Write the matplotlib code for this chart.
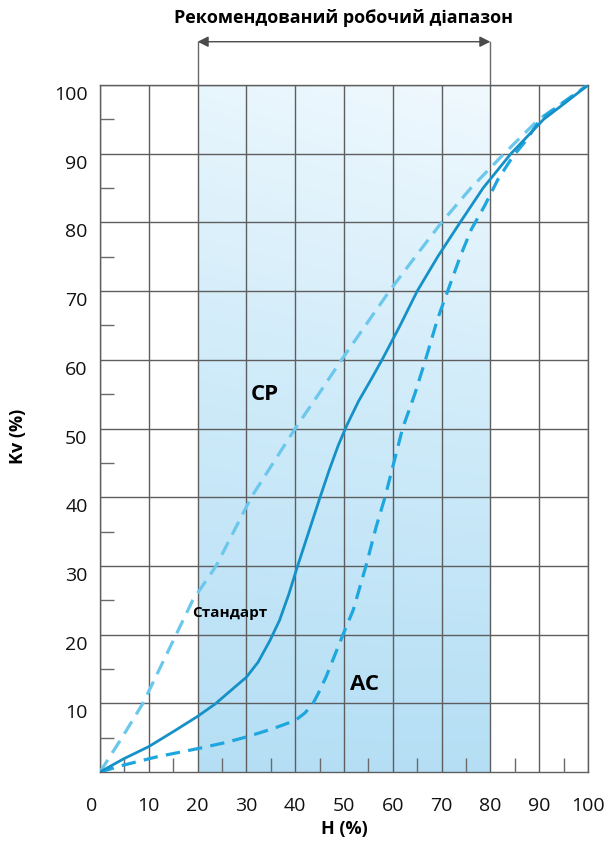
import numpy as np
import matplotlib
matplotlib.use("Agg")
import matplotlib.pyplot as plt
from matplotlib.colors import LinearSegmentedColormap
import matplotlib.transforms as mtransforms

plt.rcParams['font.family'] = ['Open Sans', 'DejaVu Sans']

# ---- data ----
cp_h  = [0, 4.5, 8.8, 12.2, 15.6, 19.0, 23.8, 27.4, 31.0, 35.5, 40.0, 44.8, 49.5, 54.4, 59.3, 64.6, 70.0, 76.0, 82.8, 89.9, 95.0, 100]
cp_kv = [0, 5, 10, 15, 20, 25, 30, 35, 40, 45, 50, 55, 60, 65, 70, 75, 80, 85, 90, 95, 97.5, 100]

std_h  = [0, 4.8, 10, 15.3, 20, 23.6, 27.2, 30.0, 32.4, 34.8, 36.8, 38.7, 40.5, 42.8, 45.1, 47.0, 48.8, 50.6, 53.0, 55.6, 57.8, 61.5, 65.0, 69.2, 73.8, 78.5, 84.2, 90.9, 95.5, 100]
std_kv = [0, 1.9, 3.7, 6.0, 8.1, 9.9, 12.1, 13.8, 16.0, 19.1, 22.1, 25.9, 30, 35, 40, 44, 47.5, 50.5, 54, 57.2, 60, 65, 70, 75, 80, 85, 90, 95, 97.5, 100]

ac_h  = [0, 4.8, 11.6, 20, 25.8, 30, 35.4, 40, 42.0, 43.6, 44.7, 46.3, 49.8, 51.9, 54.5, 56.6, 58.4, 60.2, 62.0, 64.5, 66.7, 69.2, 71.4, 73.8, 76.1, 78.8, 81.5, 84.6, 87.4, 90.2, 95, 100]
ac_kv = [0, 1.0, 2.2, 3.4, 4.3, 5.1, 6.3, 7.5, 8.6, 9.9, 11.4, 13.8, 20, 23.6, 30, 35.7, 40, 45, 50, 55, 60, 66, 70.3, 75, 79, 82.4, 86.2, 89.6, 92, 95, 97.5, 100]

x_ticks = [0, 10, 20, 30, 40, 50, 60, 70, 80, 90, 100]
y_ticks = [10, 20, 30, 40, 50, 60, 70, 80, 90, 100]
band = (20, 80)

title_text = "Рекомендований робочий діапазон"
xlabel_text = "H (%)"
ylabel_text = "Kv (%)"

# ---- figure ----
fig = plt.figure(figsize=(6.08, 8.5), dpi=100)
ax = fig.add_axes([100/608, 78/850, 488/608, 687/850])
ax.set_xlim(0, 100)
ax.set_ylim(0, 100)

# gradient band
ny, nx = 200, 60
yy, xx = np.mgrid[0:1:ny*1j, 0:1:nx*1j]
t = np.clip(0.82 * yy + 0.12 * xx * yy + 0.06, 0, 1)
cmap = LinearSegmentedColormap.from_list('band', ['#b2ddf4', '#cdeaf9', '#f0f9fe'])
ax.imshow(t, origin='lower', extent=[band[0], band[1], 0, 100], cmap=cmap,
          vmin=0, vmax=1, aspect='auto', zorder=0, interpolation='bilinear')

# grid
ax.set_xticks(x_ticks)
ax.set_yticks(y_ticks)
ax.set_xticks([5, 15, 25, 35, 45, 55, 65, 75, 85, 95], minor=True)
ax.set_yticks([5, 15, 25, 35, 45, 55, 65, 75, 85, 95], minor=True)
ax.grid(True, which='major', color='#5e5e5e', lw=1.0, zorder=1)
ax.set_axisbelow(False)
for s in ax.spines.values():
    s.set_color('#5e5e5e')
    s.set_linewidth(1.0)
ax.tick_params(which='major', length=0, labelsize=14, colors='#111111')
ax.tick_params(axis='x', which='major', pad=18)
ax.tick_params(axis='y', which='major', pad=9)
ax.tick_params(which='minor', direction='in', length=10, width=1, color='#6a6a6a')
ax.tick_params(axis='x', which='minor', top=False)
ax.tick_params(axis='y', which='minor', right=False)

# y tick labels slightly below grid lines
off = mtransforms.ScaledTranslation(0, -8/100, fig.dpi_scale_trans)
for lab in ax.get_yticklabels():
    lab.set_transform(lab.get_transform() + off)
xl = ax.get_xticklabels()
xl[0].set_transform(xl[0].get_transform() + mtransforms.ScaledTranslation(-8/100, 0, fig.dpi_scale_trans))

# curves
ax.plot(cp_h, cp_kv, color='#6cc7ec', lw=2.3, dashes=(4.5, 2.6), zorder=3,
        dash_capstyle='butt', dash_joinstyle='round')
ax.plot(ac_h, ac_kv, color='#1ea6df', lw=2.3, dashes=(4.5, 2.6), zorder=3,
        dash_capstyle='butt', dash_joinstyle='round')
ax.plot(std_h, std_kv, color='#1691c7', lw=2.0, zorder=4, solid_joinstyle='round')

# labels on chart
ax.text(26.6, 23.1, "Стандарт", fontsize=11, fontweight='bold', ha='center', va='center', zorder=5)
ax.text(33.8, 54.9, "CP", fontsize=16, fontweight='bold', ha='center', va='center', zorder=5)
ax.text(54.3, 12.7, "AC", fontsize=16, fontweight='bold', ha='center', va='center', zorder=5)

# recommended range annotation
ya = 106.3
for xv in band:
    ax.plot([xv, xv], [100, ya], color='#6a6a6a', lw=1.0, clip_on=False, zorder=2)
ax.annotate('', xy=(band[0], ya), xytext=(band[1], ya),
            arrowprops=dict(arrowstyle='<|-|>', color='#4a4a4a', lw=1.0,
                            mutation_scale=16, shrinkA=0, shrinkB=0),
            annotation_clip=False)
ax.text(50, 109.7, title_text, fontsize=13, fontweight='bold', ha='center', va='center',
        clip_on=False)

ax.set_xlabel(xlabel_text, fontsize=13, fontweight='bold')
ax.xaxis.set_label_coords(0.5, -0.07)
ax.set_ylabel(ylabel_text, fontsize=13, fontweight='bold')
ax.yaxis.set_label_coords(-0.15, 0.489)

fig.savefig('out.png', dpi=100)
